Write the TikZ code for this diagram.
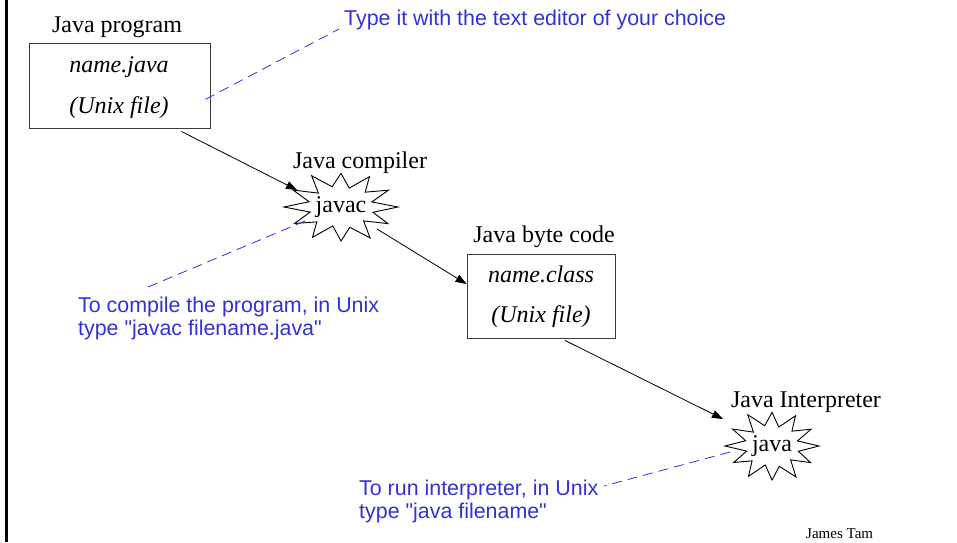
\documentclass[tikz,border=0pt]{standalone}
\usepackage{fontspec}
\setmainfont{Liberation Serif}
\newfontfamily\notefont{Liberation Sans}
\usetikzlibrary{arrows.meta,calc}

\definecolor{noteblue}{RGB}{50,50,210}
\definecolor{boxgray}{RGB}{60,60,60}

\tikzset{
  lbl/.style={anchor=base, inner sep=0pt, font=\fontsize{24}{28}\selectfont},
  filetxt/.style={anchor=base, inner sep=0pt, font=\fontsize{24}{28}\selectfont\itshape},
  filebox/.style={draw=boxgray, line width=0.9pt, inner sep=0pt},
  note/.style={anchor=base west, inner sep=0pt, text=noteblue,
               font=\fontsize{21.4}{23}\notefont, align=left},
  arr/.style={line width=0.8pt, -{Triangle[length=11pt,width=8pt]}},
  pointer/.style={draw=noteblue, line width=0.8pt, dash pattern=on 10pt off 6pt},
  burstline/.style={line width=0.9pt, line join=miter},
}

% twelve-spiked burst drawn round a node centre
\newcommand\burst[3]{%
  \draw[burstline] ([shift={(0:#2 and #3)}]#1.center)
  \foreach \a/\r in {15/0.58,30/0.95,45/0.56,60/1.02,75/0.6,90/0.97,105/0.56,
     120/1.0,135/0.6,150/0.94,165/0.56,180/1.0,195/0.58,210/0.97,225/0.56,
     240/1.03,255/0.6,270/0.96,285/0.56,300/1.0,315/0.6,330/0.96,345/0.56}
  { -- ([shift={(\a:\r*#2 and \r*#3)}]#1.center) } -- cycle;}

\begin{document}
\begin{tikzpicture}[x=1pt, y=-1pt]
\useasboundingbox (0,0) rectangle (957,542);

% page edge
\draw[line width=2.7pt] (6.3,0) -- (6.3,542);

% source file
\node[filebox, minimum width=181pt, minimum height=84.5pt] (box1) at (119.5,85.8) {};
\node[lbl] (proglbl) at (117,32) {Java program};
\node[filetxt] (src1) at (119,72) {name.java};
\node[filetxt] (src2) at (119,113) {(Unix file)};

% compiler
\node[inner sep=0pt, font=\fontsize{24}{28}\selectfont] (javac) at (341,207) {javac};
\burst{javac}{57}{35}
\node[lbl] (complbl) at (360,168) {Java compiler};

% byte code file
\node[filebox, minimum width=148pt, minimum height=84pt] (box2) at (541,296) {};
\node[lbl] (bytelbl) at (544,242) {Java byte code};
\node[filetxt] (cls1) at (541,282) {name.class};
\node[filetxt] (cls2) at (541,322) {(Unix file)};

% interpreter
\node[inner sep=0pt, font=\fontsize{24}{28}\selectfont] (java) at (772,446) {java};
\burst{java}{47}{35}
\node[lbl] (interplbl) at (806,407) {Java Interpreter};

% notes (multi-line nodes sit on the baseline of their last line)
\node[note] (typenote) at (344,25) {Type it with the text editor of your choice};
\node[note] (compnote) at (78,335) {To compile the program, in Unix\\type "javac filename.java"};
\node[note] (runnote) at (359,518) {To run interpreter, in Unix\\type "java filename"};
\node[anchor=base west, inner sep=0pt, font=\fontsize{15}{17}\selectfont] (author) at (806,538) {James Tam};

% flow
\draw[arr] ([xshift=62pt,yshift=-3pt]box1.south) -- ([xshift=-44pt,yshift=17pt]javac.center);
\draw[arr] ([xshift=36pt,yshift=-22pt]javac.center) -- ([yshift=12pt]box2.west);
\draw[arr] ([xshift=24pt,yshift=-2pt]box2.south) -- ([xshift=-49pt,yshift=27pt]java.center);

% note pointers
\draw[pointer] ([xshift=-5pt,yshift=-13.5pt]box1.east) -- ([xshift=-5pt,yshift=-4pt]typenote.base west);
\draw[pointer] ([xshift=-36pt,yshift=-14pt]javac.center) -- ([xshift=70pt,yshift=48pt]compnote.base west);
\draw[pointer] ([xshift=-42pt,yshift=-6pt]java.center) -- ([xshift=245pt,yshift=32pt]runnote.base west);
\end{tikzpicture}
\end{document}
